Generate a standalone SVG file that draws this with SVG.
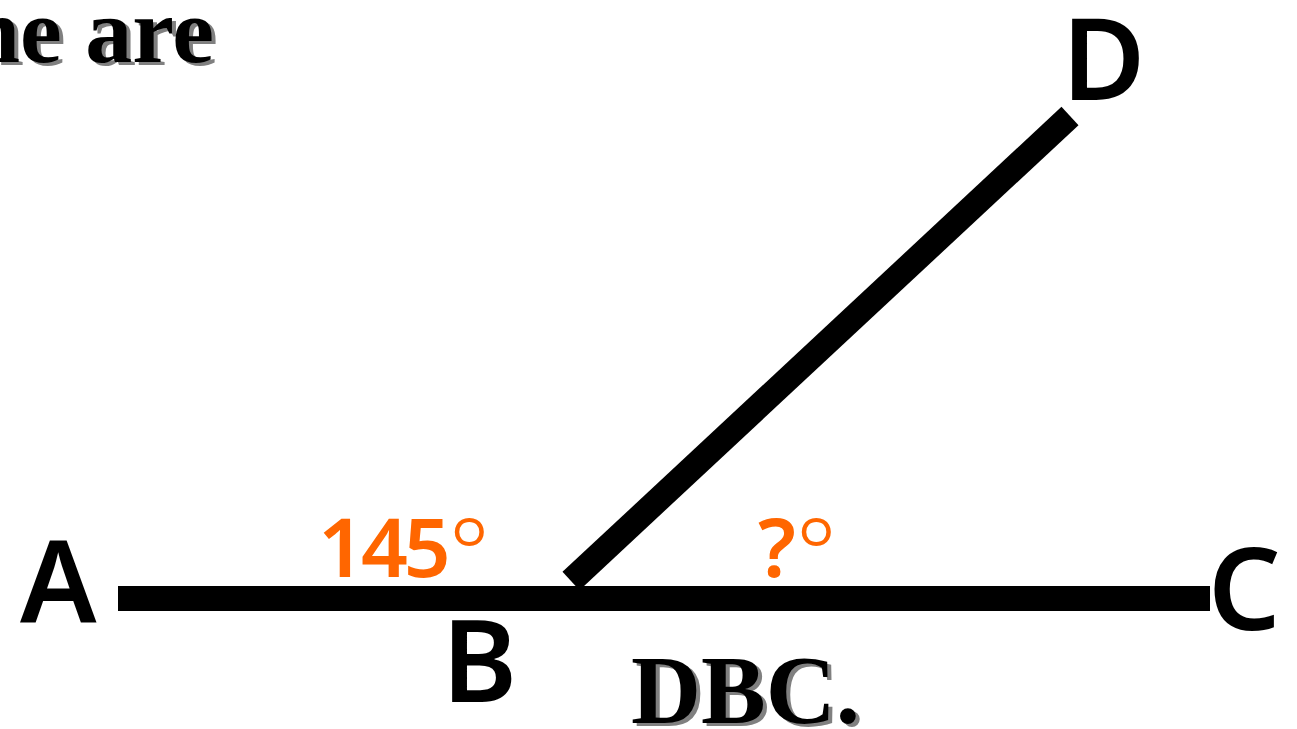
<svg xmlns="http://www.w3.org/2000/svg" width="1297" height="729" viewBox="0 0 1297 729">
<style>
.ser{font-family:"Liberation Serif","Times New Roman",serif;font-weight:bold;font-size:94px}
.sh{fill:#808080}
.lbl{font-family:"Noto Sans","DejaVu Sans",sans-serif;font-weight:600;font-size:114px;fill:#000}
.ang{font-family:"Noto Sans","DejaVu Sans",sans-serif;font-weight:600;font-size:82px;fill:#FF6600;letter-spacing:-4px}
.deg{font-family:"Noto Sans","DejaVu Sans",sans-serif;font-weight:300;font-size:96px;fill:#FF6600}
</style>
<rect width="1297" height="729" fill="#fff"/>
<g id="lines">
<rect x="118" y="586" width="1092" height="25" fill="#000"/>
<line x1="571" y1="581" x2="1070" y2="116" stroke="#000" stroke-width="25"/>
</g>
<g id="title">
<text class="ser sh" x="218" y="65" text-anchor="end">ne are</text>
<text class="ser" x="214" y="62" text-anchor="end">ne are</text>
</g>
<g id="caption">
<text class="ser sh" x="635" y="726" style="font-size:97px">DBC.</text>
<text class="ser" x="631" y="723" style="font-size:97px">DBC.</text>
</g>
<g id="A"><text class="lbl" x="20" y="622">A</text></g>
<g id="B"><text class="lbl" x="442" y="702">B</text></g>
<g id="C"><text class="lbl" x="1208" y="630">C</text></g>
<g id="D"><text class="lbl" x="1062" y="100">D</text></g>
<g id="angle145"><text class="ang" x="318" y="577">145<tspan class="deg" dx="2" dy="10">°</tspan></text></g>
<g id="angleQ"><text class="ang" x="758" y="577">?<tspan class="deg" dx="4" dy="10">°</tspan></text></g>
</svg>
